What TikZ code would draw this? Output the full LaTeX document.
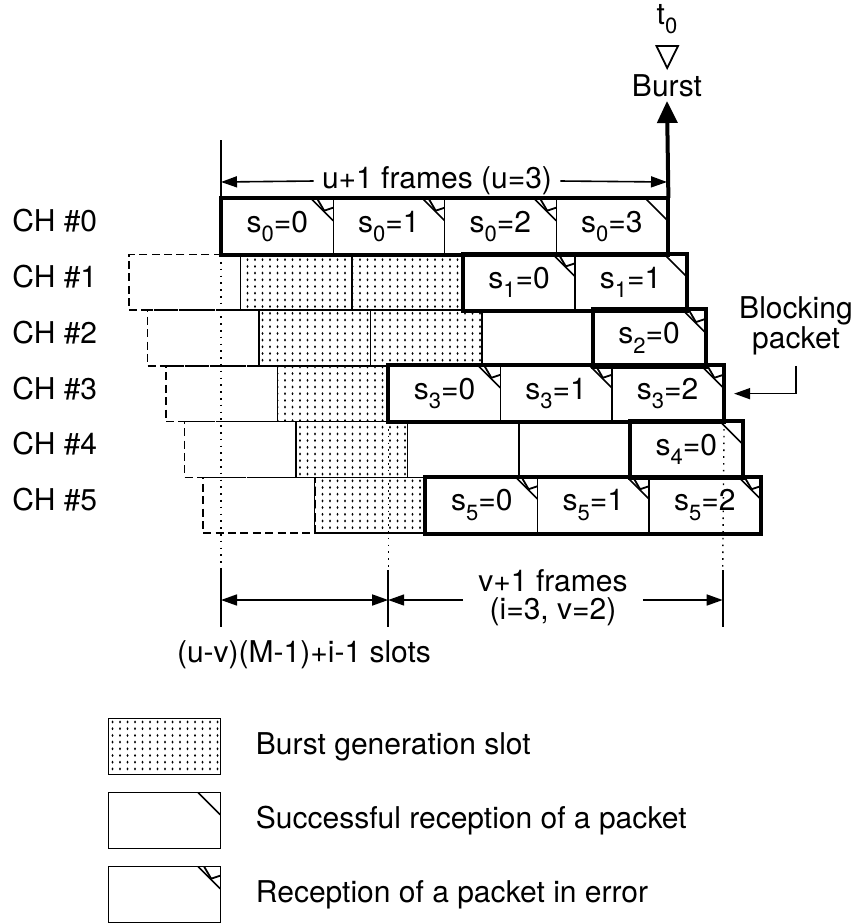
\documentclass[tikz,border=0pt]{standalone}
\usepackage{fontspec}
\setmainfont{TeX Gyre Heros}
\usetikzlibrary{arrows.meta,patterns.meta}

% subscript as in the drawing (low, rather large)
\newcommand{\chidx}[1]{\raisebox{-0.6ex}{\fontsize{11}{11}\selectfont #1}}

% stipple of the burst generation slots
\tikzdeclarepattern{
  name=stipple,
  type=uncolored,
  bounding box={(-1pt,-1pt) and (1pt,1pt)},
  tile size={(3.75pt,3.35pt)},
  code={\fill (0pt,0pt) ellipse (0.5pt and 0.75pt);}
}

\tikzset{
  slot/.style={draw, line width=0.7pt, minimum width=55.75pt, minimum height=27.85pt,
    inner sep=0pt, anchor=north west},
  idleslot/.style={slot, line width=0.8pt, dash pattern=on 4pt off 2.2pt},
  burstslot/.style={slot, pattern=stipple, pattern color=black},
  okslot/.style={slot, path picture={
    \draw[line width=0.8pt] ([xshift=-11pt]path picture bounding box.north east)
      -- ([yshift=-11pt]path picture bounding box.north east);}},
  errslot/.style={slot, path picture={
    \draw[line width=0.8pt] ([xshift=-11pt]path picture bounding box.north east)
      -- ([yshift=-11pt]path picture bounding box.north east);
    \draw[line width=0.9pt] ([xshift=-8pt]path picture bounding box.north east)
      -- ([xshift=-4.5pt,yshift=-6pt]path picture bounding box.north east)
      -- ([yshift=-4.5pt]path picture bounding box.north east);}},
  packet/.style={line width=2pt},
  guide/.style={line width=0.7pt, dash pattern=on 0.8pt off 2.6pt},
  dim/.style={line width=0.8pt},
  burstarrow/.style={line width=2pt, -{Triangle[length=11pt,width=10pt]}},
  chlabel/.style={anchor=west, inner sep=0pt},
  >={Triangle[length=8pt,width=5.5pt]}
}

\begin{document}
\begin{tikzpicture}[x=0.5pt, y=-0.5pt, font=\fontsize{15}{17}\selectfont]
\useasboundingbox (0,0) rectangle (854,923);

% channel names
\node[chlabel] (ch0) at (12,221) {CH \#0};
\node[chlabel] (ch1) at (12,277) {CH \#1};
\node[chlabel] (ch2) at (12,333) {CH \#2};
\node[chlabel] (ch3) at (12,389) {CH \#3};
\node[chlabel] (ch4) at (12,444) {CH \#4};
\node[chlabel] (ch5) at (12,500) {CH \#5};

% dashed slots before the burst
\node[idleslot] (c1i) at (128.1,253.7) {};
\node[idleslot] (c2i) at (146.7,309.4) {};
\node[idleslot] (c3i) at (165.2,365.1) {};
\node[idleslot] (c4i) at (183.8,420.8) {};
\node[idleslot] (c5i) at (202.4,476.5) {};

% CH #0
\node[errslot] (c00) at (221,198) {s\chidx{0}=0};
\node[errslot] (c01) at (332.5,198) {s\chidx{0}=1};
\node[errslot] (c02) at (444,198) {s\chidx{0}=2};
\node[okslot]  (c03) at (555.5,198) {s\chidx{0}=3};
% CH #1
\node[burstslot] (c10) at (239.6,253.7) {};
\node[burstslot] (c11) at (351.1,253.7) {};
\node[errslot]   (c12) at (462.6,253.7) {s\chidx{1}=0};
\node[okslot]    (c13) at (574.1,253.7) {s\chidx{1}=1};
% CH #2
\node[burstslot] (c20) at (258.2,309.4) {};
\node[burstslot] (c21) at (369.7,309.4) {};
\node[slot]      (c22) at (481.2,309.4) {};
\node[errslot]   (c23) at (592.7,309.4) {s\chidx{2}=0};
% CH #3
\node[burstslot] (c30) at (276.7,365.1) {};
\node[errslot]   (c31) at (388.2,365.1) {s\chidx{3}=0};
\node[errslot]   (c32) at (499.7,365.1) {s\chidx{3}=1};
\node[errslot]   (c33) at (611.2,365.1) {s\chidx{3}=2};
% CH #4
\node[burstslot] (c40) at (295.3,420.8) {};
\node[slot]      (c41) at (406.8,420.8) {};
\node[slot]      (c42) at (518.3,420.8) {};
\node[okslot]    (c43) at (629.8,420.8) {s\chidx{4}=0};
% CH #5
\node[burstslot] (c50) at (313.9,476.5) {};
\node[errslot]   (c51) at (425.4,476.5) {s\chidx{5}=0};
\node[errslot]   (c52) at (536.9,476.5) {s\chidx{5}=1};
\node[errslot]   (c53) at (648.4,476.5) {s\chidx{5}=2};

% packets of each channel
\draw[packet] (c00.north west) rectangle (c03.south east);
\draw[packet] (c12.north west) rectangle (c13.south east);
\draw[packet] (c23.north west) rectangle (c23.south east);
\draw[packet] (c31.north west) rectangle (c33.south east);
\draw[packet] (c43.north west) rectangle (c43.south east);
\draw[packet] (c51.north west) rectangle (c53.south east);

% burst instant
\coordinate (btip) at (667,101);
\draw[burstarrow] (c03.north east) -- (btip);
\node (burst) at (667,86) {Burst};
\draw[line width=0.9pt] (656.5,46) -- (678,46) -- (667.2,68) -- cycle;
\node (t0lbl) at (667,19) {t\chidx{0}};

% u+1 frames
\coordinate (ucap) at (221,140);
\coordinate (u0) at (221,182);
\coordinate (u1) at (667,182);
\draw[dim] (c00.north west) -- (ucap);
\node[inner xsep=4pt] (ulabel) at (437,181) {u+1 frames (u=3)};
\draw[dim,->] (ulabel.west) -- (u0);
\draw[dim,->] (ulabel.east) -- (u1);

% blocking packet
\node[align=center, inner sep=2pt, font=\fontsize{15}{12.5}\selectfont] (blk) at (796,326) {Blocking\\packet};
\draw[dim,->] ([yshift=-3pt]blk.south) -- (blk.south |- c33.east) -- ([xshift=5pt]c33.east);

% guides down to the lower dimensions
\coordinate (g0) at (221,570);
\coordinate (g1) at (388.2,570);
\coordinate (g2) at (722.7,570);
\coordinate (h0) at (221,627);
\coordinate (h1) at (388.2,627);
\coordinate (h2) at (722.7,627);
\draw[guide] (c00.south west) -- (g0);
\draw[guide] (c31.south west) -- (g1);
\draw[guide] (c33.south east) -- (g2);
\draw[dim] (g0) -- (h0);
\draw[dim] (g1) -- (h1);
\draw[dim] (g2) -- (h2);

% slots and frames
\coordinate (a0) at (221,600);
\coordinate (a1) at (388.2,600);
\coordinate (a2) at (722.7,600);
\draw[dim,<->] (a0) -- (a1);
\node[align=center, inner xsep=7.5pt, font=\fontsize{15}{14}\selectfont] (vlabel) at (553,598) {v+1 frames\\(i=3, v=2)};
\draw[dim,->] (vlabel.west |- a1) -- (a1);
\draw[dim,->] (vlabel.east |- a2) -- (a2);
\node (slotlbl) at (304,655) {(u-v)(M-1)+i-1 slots};

% legend
\node[burstslot] (k1) at (108,718) {};
\node[okslot]    (k2) at (108,792) {};
\node[errslot]   (k3) at (108,866) {};
\node[anchor=west] (k1t) at ([xshift=14pt]k1.east) {Burst generation slot};
\node[anchor=west] (k2t) at ([xshift=14pt]k2.east) {Successful reception of a packet};
\node[anchor=west] (k3t) at ([xshift=14pt]k3.east) {Reception of a packet in error};
\end{tikzpicture}
\end{document}
